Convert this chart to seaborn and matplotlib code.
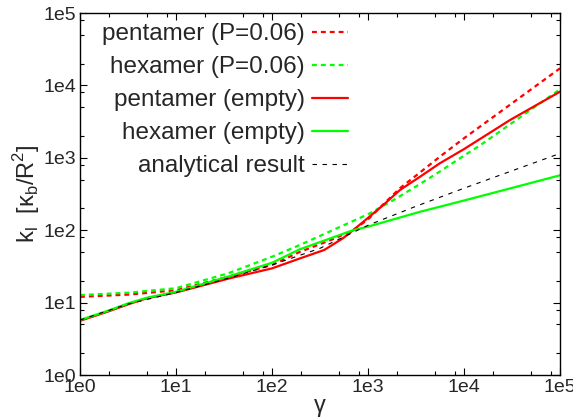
import numpy as np
import pandas as pd
import matplotlib
matplotlib.use("Agg")
import matplotlib.pyplot as plt
import seaborn as sns
from matplotlib.ticker import LogLocator, FixedLocator, FixedFormatter, NullFormatter

# -------------------------------
# data
# -------------------------------
pent_p_gamma = [1, 3.2, 10, 35, 100, 195, 440, 700, 1000, 1450, 2150, 3500, 5600, 10000, 15000, 100000]
pent_p_k = [12.0, 12.9, 14.8, 22.8, 33.1, 50.1, 75.9, 100, 141, 229, 380, 631, 1035, 1862, 2754, 17220]

hex_p_gamma = [1, 3.2, 10, 35, 100, 195, 1000, 1700, 2150, 3500, 5600, 10000, 15000, 100000]
hex_p_k = [12.7, 13.7, 15.8, 25.4, 43, 62.5, 166, 245, 295, 437, 646, 1072, 1514, 8830]

pent_e_gamma = [1, 2, 3.2, 5, 10, 35, 100, 195, 350, 550, 700, 1000, 1450, 2150, 3500, 5600, 10000, 30000, 100000]
pent_e_k = [5.6, 7.6, 9.5, 11.5, 13.8, 21.4, 29.7, 40.7, 53.3, 77.6, 100, 148, 224, 359, 550, 840, 1318, 3311, 8185]

hex_e_gamma = [1, 2, 3.2, 5, 10, 35, 100, 195, 700, 1000, 3500, 5600, 10000, 100000]
hex_e_k = [5.75, 7.8, 9.8, 11.7, 14.1, 22.9, 35.5, 54.5, 100, 112, 180, 211, 257, 573]

anal_gamma = [1, 3.16, 10, 31.6, 100, 316, 1000, 3160, 10000, 31600, 100000]
anal_k = [5.75, 9.55, 13.8, 20.9, 33.1, 56.2, 117, 214, 380, 661, 1148]

tick_vals = [1, 10, 100, 1000, 10000, 100000]
tick_labels = ["1e0", "1e1", "1e2", "1e3", "1e4", "1e5"]

series = [
    ("pentamer (P=0.06)", pent_p_gamma, pent_p_k, "#ff0000", (0, (2.2, 1.8)), 1.6),
    ("hexamer (P=0.06)", hex_p_gamma, hex_p_k, "#00ff00", (0, (2.2, 1.8)), 1.6),
    ("pentamer (empty)", pent_e_gamma, pent_e_k, "#ff0000", "-", 1.6),
    ("hexamer (empty)", hex_e_gamma, hex_e_k, "#00ff00", "-", 1.6),
    ("analytical result", anal_gamma, anal_k, "black", (0, (4, 5)), 0.8),
]

# -------------------------------
# plot
# -------------------------------
sns.set_style("ticks")
plt.rcParams["font.family"] = ["Liberation Sans", "DejaVu Sans"]

fig = plt.figure(figsize=(5.73, 4.18), dpi=100)
ax = fig.add_axes([80 / 573, 43 / 418, 480 / 573, 362 / 418])

for name, g, k, color, ls, lw in series:
    df = pd.DataFrame({"gamma": g, "k": k})
    sns.lineplot(data=df, x="gamma", y="k", ax=ax, color=color, linestyle=ls,
                 linewidth=lw, label=name, sort=False, estimator=None)

ax.set_xscale("log")
ax.set_yscale("log")
ax.set_xlim(1, 1e5)
ax.set_ylim(1, 1e5)

for axis in (ax.xaxis, ax.yaxis):
    axis.set_major_locator(FixedLocator(tick_vals))
    axis.set_major_formatter(FixedFormatter(tick_labels))
    axis.set_minor_locator(LogLocator(base=10, subs=[2, 5, 8]))
    axis.set_minor_formatter(NullFormatter())

ax.tick_params(which="both", direction="in", top=True, right=True, labelsize=14, color="black")
ax.tick_params(which="major", length=5, width=0.8, pad=3)
ax.tick_params(which="minor", length=3, width=0.8)
for sp in ax.spines.values():
    sp.set_linewidth(1.0)
    sp.set_color("black")

ax.set_xlabel("γ", fontsize=17, labelpad=-1)
ax.set_ylabel(r"k$_\mathregular{l}$  [κ$_\mathregular{b}$/R$^\mathregular{2}$]", fontsize=17, labelpad=1)

leg = ax.legend(loc="upper right", bbox_to_anchor=(0.588, 1.012), frameon=False,
                markerfirst=False, fontsize=17.5, handlelength=1.45, handletextpad=0.3,
                labelspacing=0.45, borderaxespad=0.2)

fig.savefig("out.png", dpi=100)
